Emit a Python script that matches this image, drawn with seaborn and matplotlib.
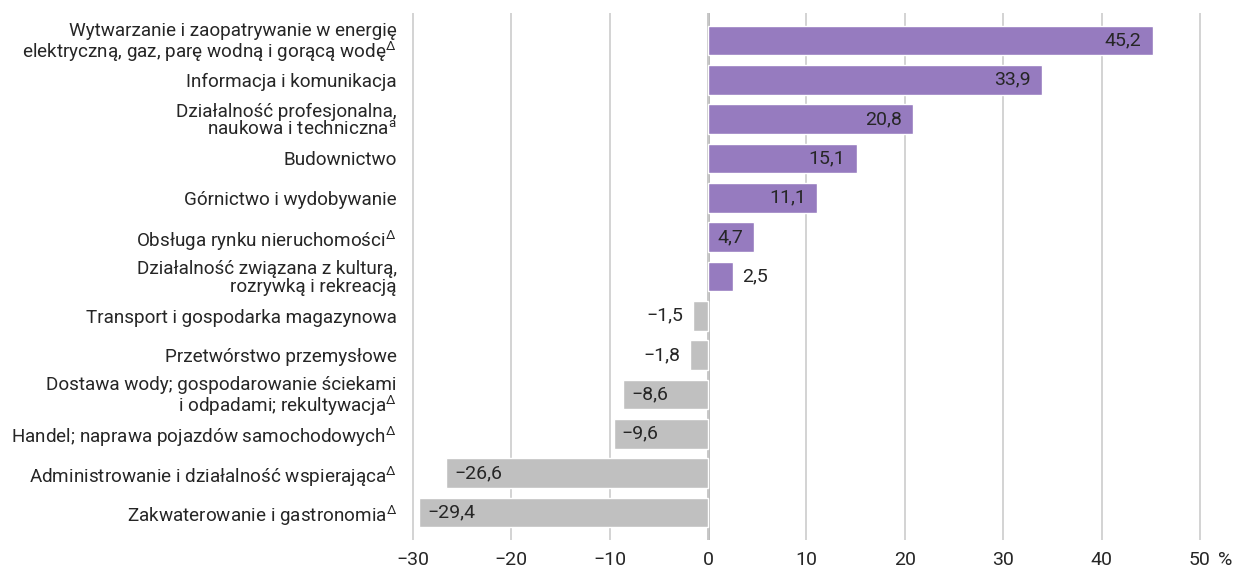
import matplotlib
matplotlib.use("Agg")
import pandas as pd
import seaborn as sns
import matplotlib.pyplot as plt
from matplotlib.transforms import blended_transform_factory

categories = [
    "Wytwarzanie i zaopatrywanie w energię\nelektryczną, gaz, parę wodną i gorącą wodę$^{\\Delta}$",
    "Informacja i komunikacja",
    "Działalność profesjonalna,\nnaukowa i techniczna$^{\\mathrm{a}}$",
    "Budownictwo",
    "Górnictwo i wydobywanie",
    "Obsługa rynku nieruchomości$^{\\Delta}$",
    "Działalność związana z kulturą,\nrozrywką i rekreacją",
    "Transport i gospodarka magazynowa",
    "Przetwórstwo przemysłowe",
    "Dostawa wody; gospodarowanie ściekami\ni odpadami; rekultywacja$^{\\Delta}$",
    "Handel; naprawa pojazdów samochodowych$^{\\Delta}$",
    "Administrowanie i działalność wspierająca$^{\\Delta}$",
    "Zakwaterowanie i gastronomia$^{\\Delta}$",
]
values = [45.2, 33.9, 20.8, 15.1, 11.1, 4.7, 2.5, -1.5, -1.8, -8.6, -9.6, -26.6, -29.4]
tick_values = [-30, -20, -10, 0, 10, 20, 30, 40, 50]
tick_labels = ["−30", "−20", "−10", "0", "10", "20", "30", "40", "50"]

purple = "#967bbf"
grey = "#c0c0c0"
text_col = "#262626"

sns.set_theme(style="white")
plt.rcParams["font.family"] = ["Roboto", "DejaVu Sans"]
plt.rcParams["mathtext.fontset"] = "custom"
plt.rcParams["mathtext.rm"] = "Roboto"

df = pd.DataFrame({"cat": categories, "val": values})
colors = [purple if v > 0 else grey for v in values]

fig = plt.figure(figsize=(12.39, 5.71), dpi=100)
ax = fig.add_axes([0.3292, 0.0543, 0.6433, 0.923])

sns.barplot(data=df, y="cat", x="val", hue="cat", palette=colors,
            legend=False, orient="h", width=0.76, ax=ax, saturation=1)

ax.set_xlim(-30.5, 50.5)
ax.set_ylim(12.7, -0.7)
ax.set_xticks(tick_values)
ax.set_xticklabels(tick_labels)
ax.grid(axis="x", color="#cccccc", lw=1.2)
ax.grid(axis="y", visible=False)
ax.axvline(0, color="#b4b4b4", lw=2, zorder=0.5)
ax.set_axisbelow(True)
for s in ax.spines.values():
    s.set_visible(False)
ax.set_xlabel("")
ax.set_ylabel("")
ax.tick_params(axis="x", length=0, pad=8, labelsize=14, labelcolor=text_col)
ax.tick_params(axis="y", length=0, pad=8, labelsize=13.6, labelcolor=text_col)
for lab in ax.get_yticklabels():
    lab.set_linespacing(0.95)

# "%" after the last tick
tr = blended_transform_factory(ax.transData, ax.transAxes)
ax.annotate("%", xy=(50, 0), xycoords=tr, xytext=(13, -8), textcoords="offset points",
            ha="left", va="top", fontsize=14, color=text_col)

for i, v in enumerate(values):
    txt = f"{abs(v):.1f}".replace(".", ",")
    if v < 0:
        txt = "−" + txt
    inside = abs(v) > 4
    if v > 0:
        off, ha = (-8, "right") if inside else (7, "left")
    else:
        off, ha = (6, "left") if inside else (-7, "right")
    ax.annotate(txt, xy=(v, i), xytext=(off, 0), textcoords="offset points",
                ha=ha, va="center", fontsize=14, color=text_col)

fig.savefig("out.png", dpi=100)
